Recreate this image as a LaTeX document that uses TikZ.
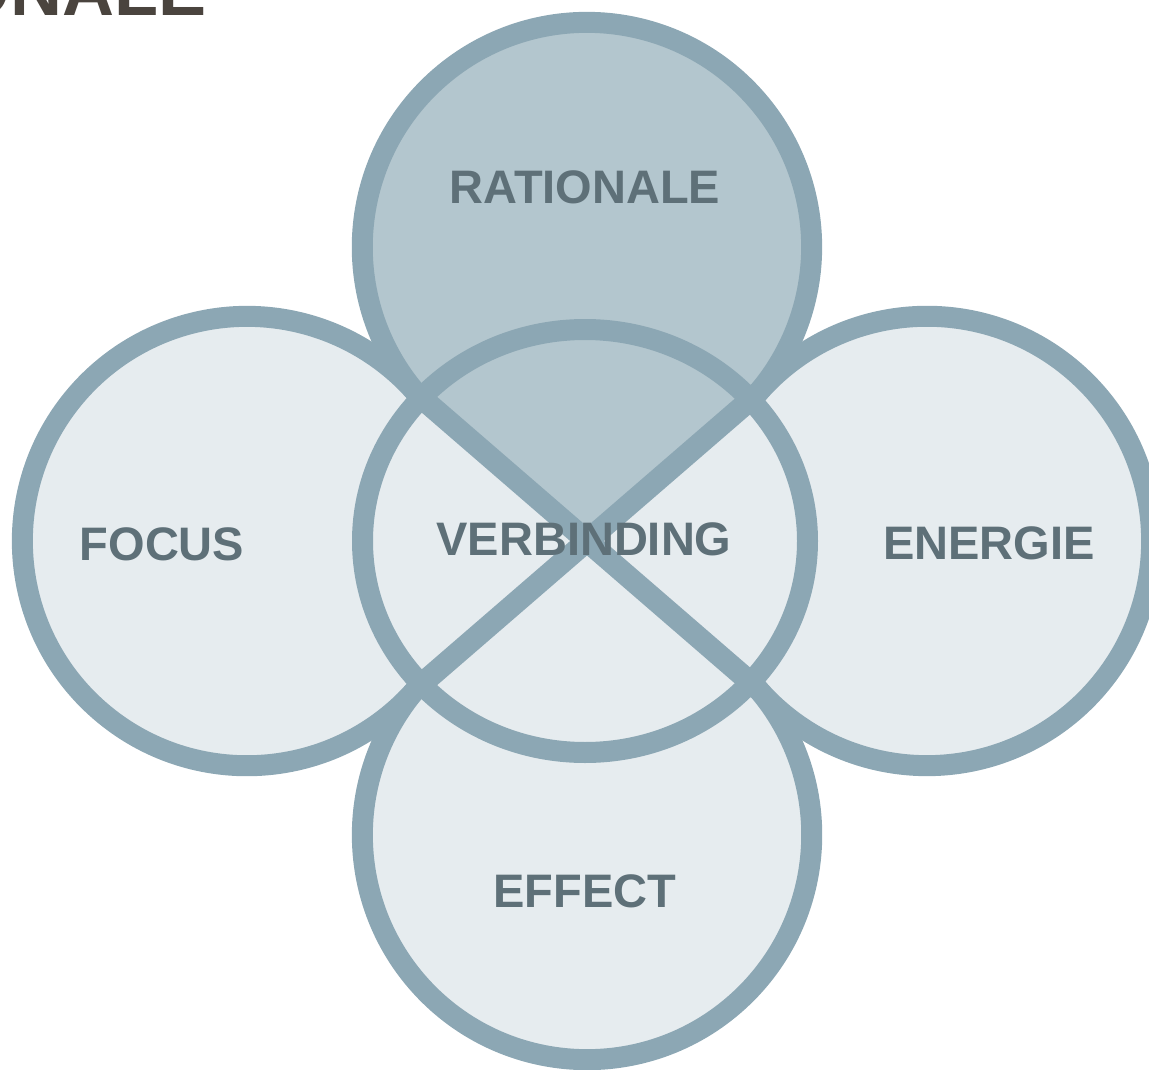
\documentclass[tikz,border=0pt]{standalone}
\usepackage{fontspec}
\setmainfont{Liberation Sans}
\definecolor{ringblue}{HTML}{8CA7B4}
\definecolor{dropdark}{HTML}{B3C6CE}
\definecolor{droplight}{HTML}{E6ECEF}
\definecolor{textgrey}{HTML}{5E7078}
\definecolor{titlegrey}{HTML}{4A443E}
\begin{document}
\begin{tikzpicture}[x=1pt, y=-1pt, line width=21pt, line join=round,
main/.style = {text=textgrey, font=\bfseries\fontsize{47}{56}\selectfont, inner sep=0pt},
head/.style = {text=titlegrey, font=\bfseries\fontsize{72}{86}\selectfont, inner sep=0pt, anchor=base east}]
    \useasboundingbox (0,0) rectangle (1149,1070);
    \clip (0,0) rectangle (1149,1070);

    \coordinate (t) at (587,541);
    \coordinate (tl) at (417,394);
    \coordinate (tr) at (757,394);
    \coordinate (bl) at (417,688);
    \coordinate (br) at (757,688);

    % fills
    \fill[droplight] (585,541) ellipse [x radius=222.5, y radius=211.5];
    \fill[droplight] (t) -- (bl) arc[start angle=40.85, end angle=319.15, radius=224.7] -- cycle;
    \fill[droplight] (t) -- (tr) arc[start angle=220.85, end angle=499.15, radius=224.7] -- cycle;
    \fill[droplight] (t) -- (br) arc[start angle=-40.85, end angle=220.85, radius=224.7] -- cycle;
    \fill[dropdark] (t) -- (tl) arc[start angle=139.15, end angle=400.85, radius=224.7] -- cycle;

    % outlines
    \draw[ringblue] (585,541) ellipse [x radius=222.5, y radius=211.5];
    \draw[ringblue] (tl) arc[start angle=139.15, end angle=400.85, radius=224.7];
    \draw[ringblue] (bl) arc[start angle=40.85, end angle=319.15, radius=224.7];
    \draw[ringblue] (tr) arc[start angle=220.85, end angle=499.15, radius=224.7];
    \draw[ringblue] (br) arc[start angle=-40.85, end angle=220.85, radius=224.7];
    \draw[ringblue, line width=22pt] (tl) -- (t) -- (br);
    \draw[ringblue, line width=22pt] (tr) -- (t) -- (bl);

    \node[head] (0) at (217,16) {RATIONALE};
    \node[main] (1) at (585,187) {RATIONALE};
    \node[main] (2) at (162,544) {FOCUS};
    \node[main] (3) at (584,539) {VERBINDING};
    \node[main] (4) at (989,543) {ENERGIE};
    \node[main] (5) at (585,891) {EFFECT};
\end{tikzpicture}
\end{document}
